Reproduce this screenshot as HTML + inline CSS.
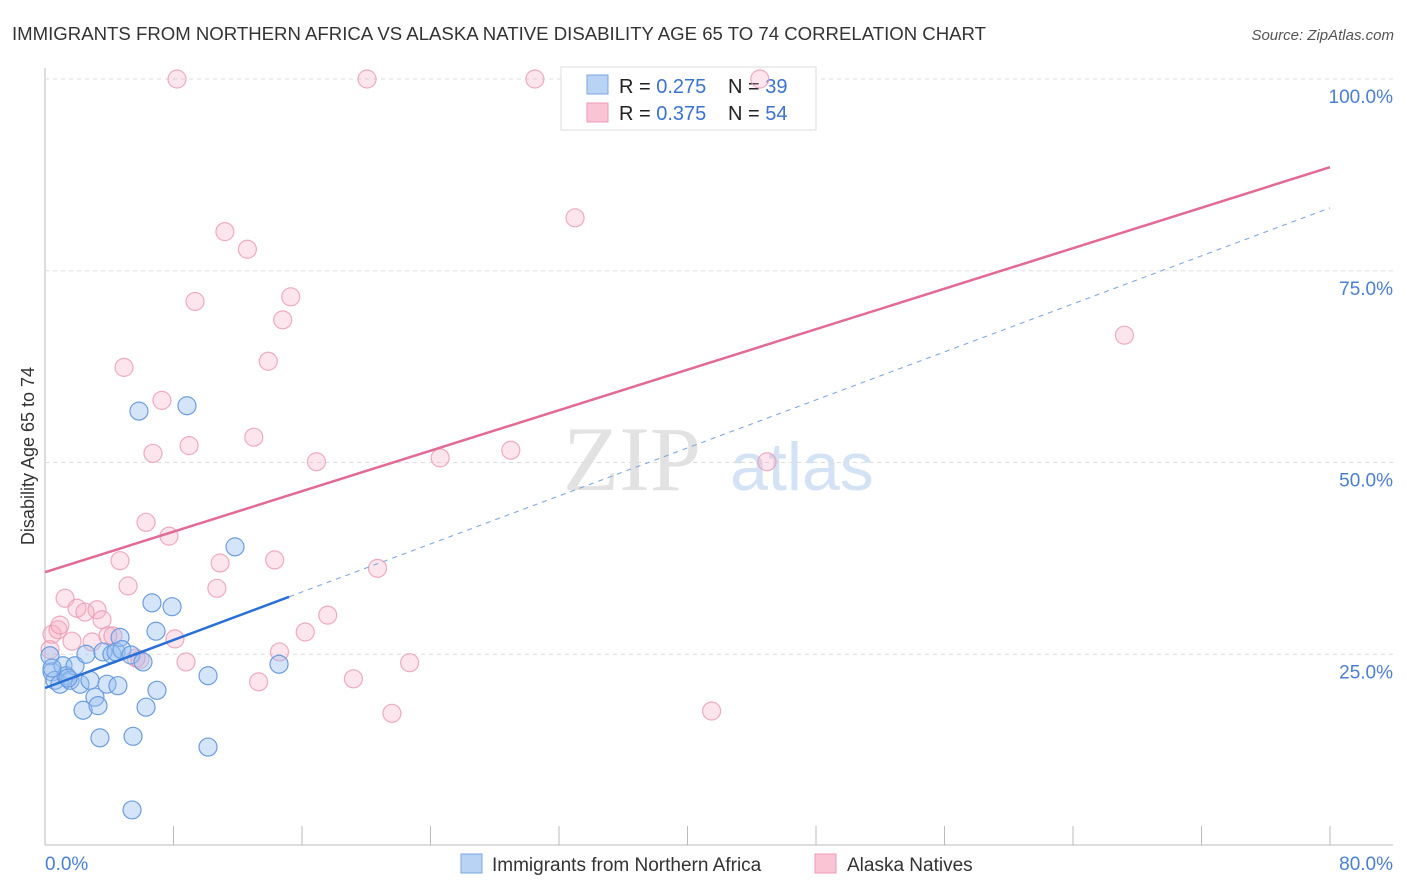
<!DOCTYPE html>
<html><head><meta charset="utf-8"><style>
body{margin:0;background:#fff;font-family:"Liberation Sans",sans-serif}
svg{display:block}
</style></head><body>
<svg id="c" width="1406" height="892">
<text x="12" y="40" font-size="18.6" fill="#333">IMMIGRANTS FROM NORTHERN AFRICA VS ALASKA NATIVE DISABILITY AGE 65 TO 74 CORRELATION CHART</text>
<text x="1394" y="40" font-size="15" fill="#555" font-style="italic" text-anchor="end">Source: ZipAtlas.com</text>
<text x="632" y="490" font-size="92" fill="#e2e2e2" font-family="Liberation Serif" text-anchor="middle">ZIP</text>
<text x="802" y="490" font-size="68" fill="#d4e2f5" text-anchor="middle">atlas</text>
<text transform="translate(34,456) rotate(-90)" font-size="18" fill="#333" text-anchor="middle">Disability Age 65 to 74</text>
<g id="grid"></g>
<g>
<rect x="561" y="67" width="255" height="63" fill="#fff" stroke="#ddd"/>
<rect x="587" y="75" width="21" height="19" fill="#b9d3f5" stroke="#7aa6e0"/>
<rect x="587" y="103" width="21" height="19" fill="#f9c5d4" stroke="#ee9ab5"/>
<text x="619" y="93" font-size="20" fill="#222">R = <tspan fill="#3a73d0">0.275</tspan></text>
<text x="728" y="93" font-size="20" fill="#222">N = <tspan fill="#3a73d0">39</tspan></text>
<text x="619" y="120" font-size="20" fill="#222">R = <tspan fill="#3a73d0">0.375</tspan></text>
<text x="728" y="120" font-size="20" fill="#222">N = <tspan fill="#3a73d0">54</tspan></text>
</g>
<g id="marks"></g>
<g>
<rect x="461" y="854" width="21" height="19" fill="#b9d3f5" stroke="#7aa6e0"/>
<text x="492" y="871" font-size="19" fill="#333">Immigrants from Northern Africa</text>
<rect x="815" y="854" width="21" height="19" fill="#f9c5d4" stroke="#ee9ab5"/>
<text x="847" y="871" font-size="19" fill="#333">Alaska Natives</text>
</g>
</svg>
<script>
const yTicks=[25,50,75,100];
const yTickLabels=["25.0%","50.0%","75.0%","100.0%"];
const xTickVals=[0,8,16,24,32,40,48,56,64,72,80];
const blueX=[0.31,0.44,0.62,0.93,1.12,1.31,1.56,1.87,2.18,2.37,2.55,2.80,3.11,3.30,3.42,3.61,3.86,4.17,4.42,4.54,4.67,4.79,5.35,5.48,5.42,5.85,6.10,6.29,6.66,6.91,6.97,7.91,8.84,10.15,10.15,11.83,14.57,0.44,1.43];
const blueY=[24.8,22.7,21.6,21.1,23.5,22.2,21.6,23.5,21.1,17.7,25.0,21.6,19.4,18.3,14.1,25.3,21.1,25.0,25.3,20.9,27.2,25.6,24.9,14.3,4.7,56.7,24.0,18.1,31.7,28.0,20.3,31.2,57.4,22.2,12.9,39.0,23.7,23.2,21.9];
const pinkX=[8.22,20.05,30.5,44.5,33.0,11.2,12.6,9.34,15.3,14.8,4.92,13.9,7.28,8.97,13.0,6.72,16.9,24.6,29.0,44.95,67.2,6.29,7.72,4.67,10.9,14.3,20.7,5.17,10.7,1.25,1.99,2.49,3.24,3.55,17.6,16.2,0.44,0.81,1.68,2.93,3.92,4.23,8.09,5.91,5.67,8.78,14.6,13.3,19.2,22.7,21.6,41.5,0.31,0.93];
const pinkY=[100,100,100,100,81.9,80.1,77.8,71.0,71.6,68.6,62.4,63.2,58.1,52.2,53.3,51.2,50.1,50.6,51.6,50.1,66.6,42.2,40.4,37.2,36.9,37.3,36.2,33.9,33.6,32.3,31.0,30.5,30.8,29.5,30.1,27.9,27.6,28.2,26.7,26.6,27.4,27.4,27.0,24.3,24.5,24.0,25.3,21.4,21.8,23.9,17.3,17.6,25.6,28.8];
const blueTrend=[20.6,83.2];
const pinkTrend=[35.7,88.5];
const blueSolidEnd=15.2;
const X=v=>45+v/80*1285, Y=v=>846-v/100*767;
const NS="http://www.w3.org/2000/svg";
function mk(p,t,a){const e=document.createElementNS(NS,t);for(const k in a)e.setAttribute(k,a[k]);p.appendChild(e);return e;}
const g=document.getElementById('grid'), m=document.getElementById('marks');
let e=mk(g,'line',{x1:45,y1:68,x2:45,y2:845,stroke:'#bbb'});


e=mk(g,'line',{x1:45,y1:845,x2:1393,y2:845,stroke:'#bbb'});


yTicks.forEach((v,i)=>{
 let l=mk(g,'line',{x1:45,y1:Y(v),x2:1393,y2:Y(v),stroke:'#ddd','stroke-dasharray':'4,4'});
 
 
 let t=mk(g,'text',{x:1393,y:Y(v)+24,'font-size':19,fill:'#4a7fd4','text-anchor':'end'});
 t.textContent=yTickLabels[i];
 
 
});
xTickVals.forEach(v=>{
 let l=mk(g,'line',{x1:X(v),y1:826,x2:X(v),y2:845,stroke:'#bbb'});
 
 
});
[[0,"0.0%",'start',45],[80,"80.0%",'end',1393]].forEach(a=>{
 let t=mk(g,'text',{x:a[3],y:870,'font-size':19,fill:'#4a7fd4','text-anchor':a[2]});
 t.textContent=a[1];
 
 
});
pinkX.forEach((x,i)=>{
 let c=mk(m,'circle',{cx:X(x),cy:Y(pinkY[i]),r:9,fill:'rgba(245,170,192,0.3)',stroke:'rgba(235,153,179,0.8)','stroke-width':1.2});
 
 
});
blueX.forEach((x,i)=>{
 let c=mk(m,'circle',{cx:X(x),cy:Y(blueY[i]),r:9,fill:'rgba(150,190,240,0.4)',stroke:'#6c9de0','stroke-width':1.2});
 
 
});
const by=x=>blueTrend[0]+(blueTrend[1]-blueTrend[0])*x/80;
e=mk(m,'line',{x1:X(blueSolidEnd),y1:Y(by(blueSolidEnd)),x2:X(80),y2:Y(by(80)),stroke:'#7aa6e0','stroke-width':1,'stroke-dasharray':'5,5'});


e=mk(m,'line',{x1:X(0),y1:Y(by(0)),x2:X(blueSolidEnd),y2:Y(by(blueSolidEnd)),stroke:'#2a6fd6','stroke-width':2.5});


e=mk(m,'line',{x1:X(0),y1:Y(pinkTrend[0]),x2:X(80),y2:Y(pinkTrend[1]),stroke:'#e26a94','stroke-width':2.5});


</script>
</body></html>
